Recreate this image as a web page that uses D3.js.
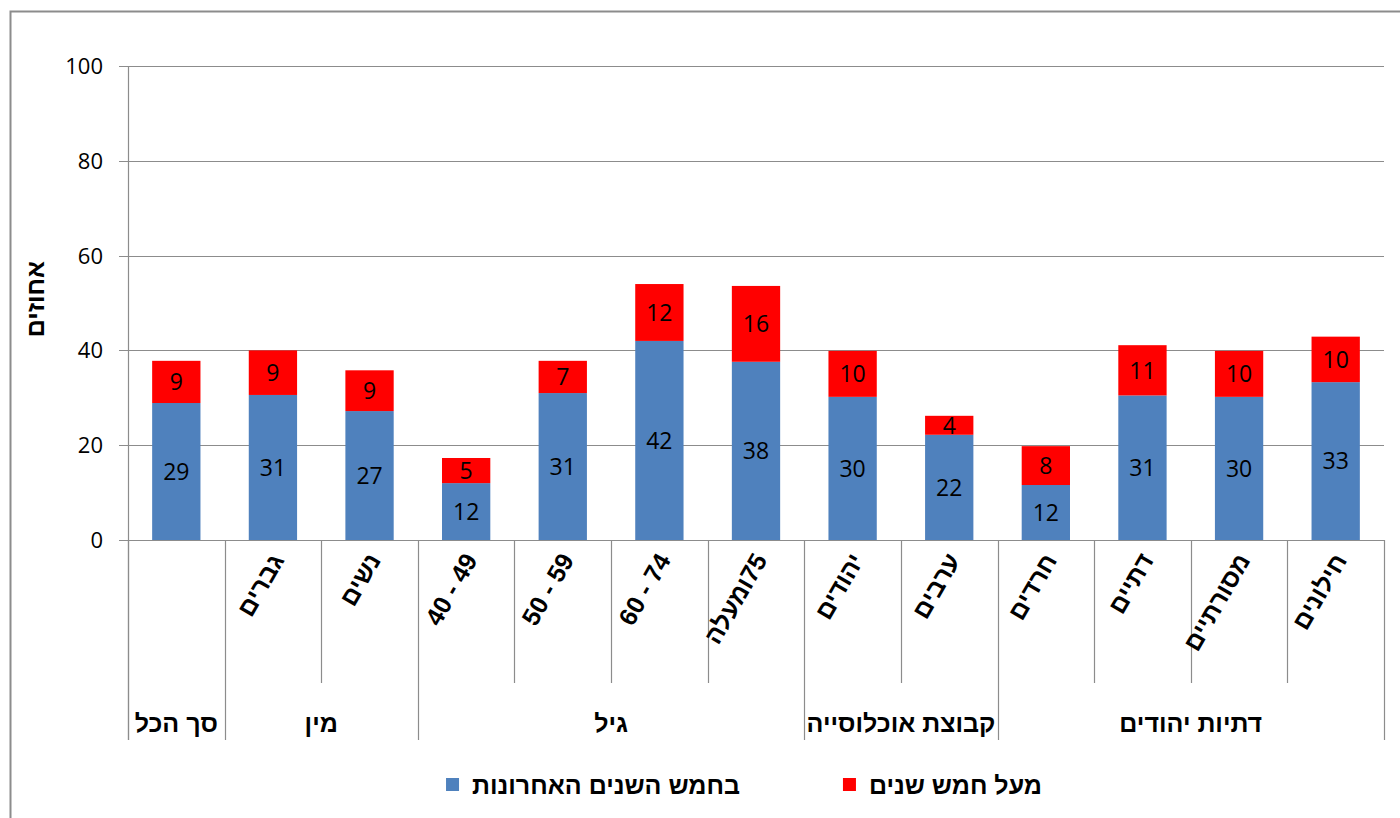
<!DOCTYPE html>
<html>
<head>
<meta charset="utf-8">
<script src="https://cdn.jsdelivr.net/npm/d3@7"></script>
<style>
  body { margin: 0; background: #fff; }
  svg { display: block; }
</style>
</head>
<body>
<script>
var width = 1400,
  height = 818;

// categories (x axis), inner level
var categories = ["סך הכל", "גברים", "נשים", "40 - 49", "50 - 59", "60 - 74", "75ומעלה",
  "יהודים", "ערבים", "חרדים", "דתיים", "מסורתיים", "חילונים"];
// outer level groups: label, count of categories
var groupNames = ["סך הכל", "מין", "גיל", "קבוצת אוכלוסייה", "דתיות יהודים"];
var groupSizes = [1, 2, 4, 2, 4];
// series
var recent = [28.9, 30.6, 27.2, 12.0, 31.0, 42.0, 37.6, 30.2, 22.2, 11.6, 30.5, 30.2, 33.3];
var older = [8.9, 9.4, 8.6, 5.3, 6.8, 12.0, 16.0, 9.7, 4.0, 8.2, 10.6, 9.7, 9.6];
var seriesNames = ["בחמש השנים האחרונות", "מעל חמש שנים"];
var colors = ["#4F81BD", "#FF0000"];
var yTicks = [0, 20, 40, 60, 80, 100];

var numFont = "'Open Sans', 'Liberation Sans', sans-serif";
var hebFont = "'Liberation Sans', 'DejaVu Sans', sans-serif";
var hebSize = "25px";
var gray = "#8c8c8c";

var svg = d3.select("body").append("svg")
  .attr("width", width)
  .attr("height", height);

// chart frame (cut at right and bottom)
svg.append("path")
  .attr("d", "M10.5,818 V11.5 H1400")
  .attr("fill", "none")
  .attr("stroke", gray)
  .attr("stroke-width", 2);

var x = d3.scaleBand().domain(d3.range(categories.length)).range([128, 1384]).padding(0);
var y = d3.scaleLinear().domain([0, 100]).range([540, 66]);

// grid
svg.append("g").selectAll("line").data(yTicks).enter().append("line")
  .attr("x1", 119).attr("x2", 1384)
  .attr("y1", function(d){ return Math.round(y(d)) + 0.5; })
  .attr("y2", function(d){ return Math.round(y(d)) + 0.5; })
  .attr("stroke", gray).attr("stroke-width", 1.2);

// y axis line
svg.append("line")
  .attr("x1", 128.5).attr("x2", 128.5).attr("y1", y(100)).attr("y2", 740)
  .attr("stroke", gray).attr("stroke-width", 1.2);

// y tick labels
svg.append("g").selectAll("text").data(yTicks).enter().append("text")
  .attr("x", 103)
  .attr("y", function(d){ return y(d); })
  .attr("dy", "0.36em")
  .attr("text-anchor", "end")
  .style("font-family", numFont).style("font-size", "22px").attr("fill", "#000")
  .text(function(d){ return d; });

// y axis title
svg.append("text")
  .attr("transform", "translate(44,299) rotate(-90)")
  .attr("text-anchor", "middle")
  .style("font-family", hebFont).style("font-size", hebSize).style("font-weight", "bold")
  .text("אחוזים");

// stacked data
var stackData = categories.map(function(c, i){ return {i: i, a: recent[i], b: older[i]}; });
var stack = d3.stack().keys(["a", "b"]);
var layers = stack(stackData);

var bw = x.bandwidth() * 0.5;
var gLayer = svg.append("g").selectAll("g").data(layers).enter().append("g")
  .attr("fill", function(d, k){ return colors[k]; });

gLayer.selectAll("rect").data(function(d){ return d; }).enter().append("rect")
  .attr("x", function(d){ return x(d.data.i) + (x.bandwidth() - bw) / 2; })
  .attr("width", bw)
  .attr("y", function(d){ return y(d[1]); })
  .attr("height", function(d){ return y(d[0]) - y(d[1]); });

gLayer.selectAll("text").data(function(d){ return d; }).enter().append("text")
  .attr("x", function(d){ return x(d.data.i) + x.bandwidth() / 2; })
  .attr("y", function(d){ return (y(d[0]) + y(d[1])) / 2; })
  .attr("dy", "0.36em")
  .attr("text-anchor", "middle")
  .attr("fill", "#000")
  .style("font-family", numFont).style("font-size", "23px")
  .text(function(d){ return Math.round(d[1] - d[0]); });

// category separators
var bounds = d3.range(categories.length + 1).map(function(i){ return i < categories.length ? x(i) : x.range()[1]; });
var groupStarts = [0];
groupSizes.forEach(function(s, k){ groupStarts.push(groupStarts[k] + s); });

svg.append("g").selectAll("line").data(bounds).enter().append("line")
  .attr("x1", function(d){ return Math.round(d) + 0.5; })
  .attr("x2", function(d){ return Math.round(d) + 0.5; })
  .attr("y1", 540)
  .attr("y2", function(d, i){ return groupStarts.indexOf(i) >= 0 ? 740 : 683; })
  .attr("stroke", gray).attr("stroke-width", 1.2);

// rotated category labels (first category has none: shown as group label)
svg.append("g").selectAll("text").data(categories).enter()
  .filter(function(d, i){ return i > 0; })
  .append("text")
  .attr("transform", function(d){
    var i = categories.indexOf(d);
    return "translate(" + (x(i) + x.bandwidth() / 2 + 12) + ",560) rotate(-60)";
  })
  .attr("text-anchor", function(d){ return /^[\d\s-]+$/.test(d) ? "end" : "start"; })
  .style("direction", function(d){ return /^[\d\s-]+$/.test(d) ? "ltr" : "rtl"; })
  .style("font-family", hebFont).style("font-size", hebSize).style("font-weight", "bold")
  .text(function(d){ return d; });

// group labels
svg.append("g").selectAll("text").data(groupNames).enter().append("text")
  .attr("x", function(d, k){ return (bounds[groupStarts[k]] + bounds[groupStarts[k + 1]]) / 2; })
  .attr("y", 732)
  .attr("text-anchor", "middle")
  .style("font-family", hebFont).style("font-size", hebSize).style("font-weight", "bold")
  .text(function(d){ return d; });

// legend
var legendX = [740, 1042];
var leg = svg.append("g").selectAll("g").data(seriesNames).enter().append("g");
leg.append("text")
  .attr("x", function(d, k){ return legendX[k]; })
  .attr("y", 794)
  .attr("text-anchor", "end")
  .style("font-family", hebFont).style("font-size", hebSize).style("font-weight", "bold")
  .text(function(d){ return d; })
  .each(function(d, k){
    var w = this.getComputedTextLength();
    d3.select(this.parentNode).append("rect")
      .attr("x", legendX[k] - w - 26).attr("y", 778)
      .attr("width", 13).attr("height", 13)
      .attr("fill", colors[k]);
  });
</script>
</body>
</html>
